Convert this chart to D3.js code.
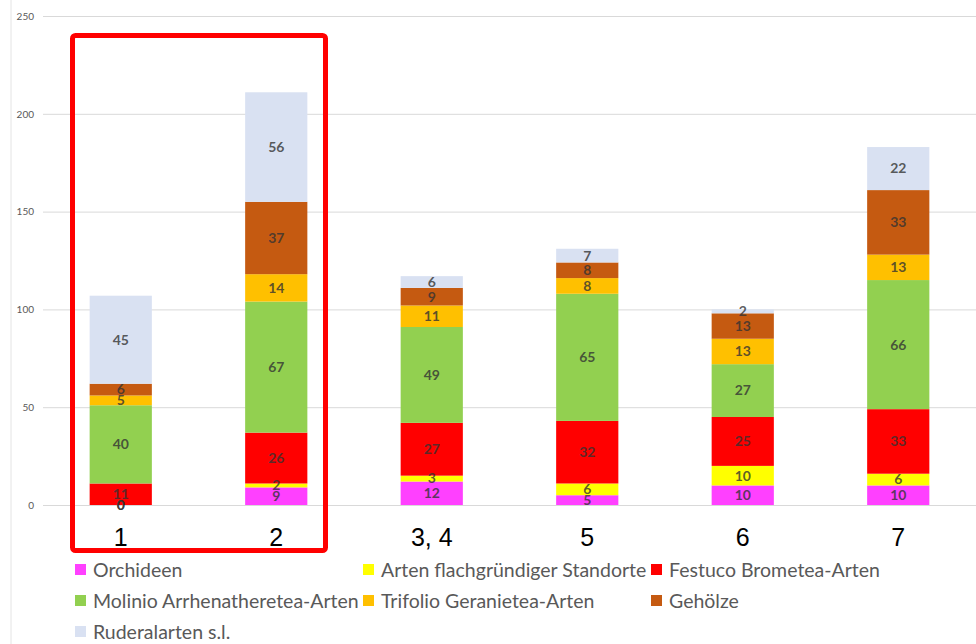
<!DOCTYPE html>
<html>
<head>
<meta charset="utf-8">
<script src="https://cdn.jsdelivr.net/npm/d3@7"></script>
<style>
  body { margin: 0; background: #fff; }
  svg { display: block; }
</style>
</head>
<body>
<div id="chart"></div>
<script>
// categories (bar groups) and series, bottom to top of each stack
const categories = ["1", "2", "3, 4", "5", "6", "7"];
const seriesNames = [
    "Orchideen",
    "Arten flachgründiger Standorte",
    "Festuco Brometea-Arten",
    "Molinio Arrhenatheretea-Arten",
    "Trifolio Geranietea-Arten",
    "Gehölze",
    "Ruderalarten s.l."
];
const seriesColors = ["#ff40ff", "#ffff00", "#ff0000", "#92d050", "#ffc000", "#c55a11", "#d9e1f2"];

const orchideen = [0, 9, 12, 5, 10, 10];
const flachgruendig = [0, 2, 3, 6, 10, 6];
const festuco = [11, 26, 27, 32, 25, 33];
const molinio = [40, 67, 49, 65, 27, 66];
const trifolio = [5, 14, 11, 8, 13, 13];
const gehoelze = [6, 37, 9, 8, 13, 33];
const ruderal = [45, 56, 6, 7, 2, 22];

const yTicks = [0, 50, 100, 150, 200, 250];

const seriesValues = [orchideen, flachgruendig, festuco, molinio, trifolio, gehoelze, ruderal];

// rows for d3.stack
const rows = categories.map((c, i) => {
    const row = { cat: c };
    seriesNames.forEach((s, j) => { row[s] = seriesValues[j][i]; });
    return row;
});

const width = 976, height = 644;

const svg = d3.select("#chart").append("svg")
    .attr("width", width)
    .attr("height", height);

// thin frame line on the left
svg.append("line")
    .attr("x1", 11).attr("x2", 11)
    .attr("y1", 0).attr("y2", height)
    .attr("stroke", "#e4e4e4")
    .attr("stroke-width", 1);

const x = d3.scaleBand()
    .domain(categories)
    .range([43, 976])
    .paddingInner(0.6)
    .paddingOuter(0.3);

const y = d3.scaleLinear()
    .domain([0, 250])
    .range([505, 16]);

// y axis with gridlines
const yAxis = svg.append("g")
    .attr("transform", "translate(43,0)")
    .call(d3.axisLeft(y).tickValues(yTicks).tickSizeInner(-933).tickSizeOuter(0).tickPadding(9));
yAxis.select(".domain").remove();
yAxis.selectAll(".tick line").attr("stroke", "#d9d9d9");
yAxis.selectAll(".tick text")
    .attr("fill", "#595959")
    .style("font-family", "Lato, 'Open Sans', sans-serif")
    .style("font-size", "10px");

// stacked bars
const stacked = d3.stack().keys(seriesNames)(rows);

const layers = svg.append("g").selectAll("g")
    .data(stacked)
    .join("g")
    .attr("fill", (d, i) => seriesColors[i]);

layers.selectAll("rect")
    .data(d => d)
    .join("rect")
    .attr("x", d => x(d.data.cat))
    .attr("y", d => y(d[1]))
    .attr("width", x.bandwidth())
    .attr("height", d => y(d[0]) - y(d[1]));

// value labels
const labels = svg.append("g");
stacked.forEach(layer => {
    labels.selectAll(null)
        .data(layer)
        .join("text")
        .attr("x", d => x(d.data.cat) + x.bandwidth() / 2)
        .attr("y", d => y((d[0] + d[1]) / 2))
        .attr("dy", "0.35em")
        .attr("text-anchor", "middle")
        .attr("fill", "#333")
        .attr("fill-opacity", 0.8)
        .style("font-family", "Lato, 'Open Sans', sans-serif")
        .style("font-weight", "bold")
        .style("font-size", "14px")
        .text(d => d[1] - d[0]);
});

// category labels under bars
const xAxis = svg.append("g")
    .attr("transform", "translate(0,505)")
    .call(d3.axisBottom(x).tickSize(0).tickPadding(23));
xAxis.select(".domain").remove();
xAxis.selectAll(".tick text")
    .attr("fill", "#000")
    .style("font-family", "'Liberation Sans', Arial, sans-serif")
    .style("font-size", "25px");

// red highlight box around groups 1 and 2
svg.append("rect")
    .attr("x", 72.5)
    .attr("y", 35.5)
    .attr("width", 253)
    .attr("height", 515)
    .attr("rx", 3)
    .attr("fill", "none")
    .attr("stroke", "#ff0000")
    .attr("stroke-width", 5);

// legend, three columns
const legend = svg.append("g").selectAll("g")
    .data(seriesNames)
    .join("g")
    .attr("transform", (d, i) => `translate(${75 + (i % 3) * 288},${577 + Math.floor(i / 3) * 31})`);

legend.append("rect")
    .attr("x", 0)
    .attr("y", -13)
    .attr("width", 11)
    .attr("height", 11)
    .attr("fill", (d, i) => seriesColors[i]);

legend.append("text")
    .attr("x", 18)
    .attr("y", 0)
    .attr("fill", "#595959")
    .style("font-family", "Lato, 'Open Sans', sans-serif")
    .style("font-size", "19.5px")
    .text(d => d);
</script>
</body>
</html>
